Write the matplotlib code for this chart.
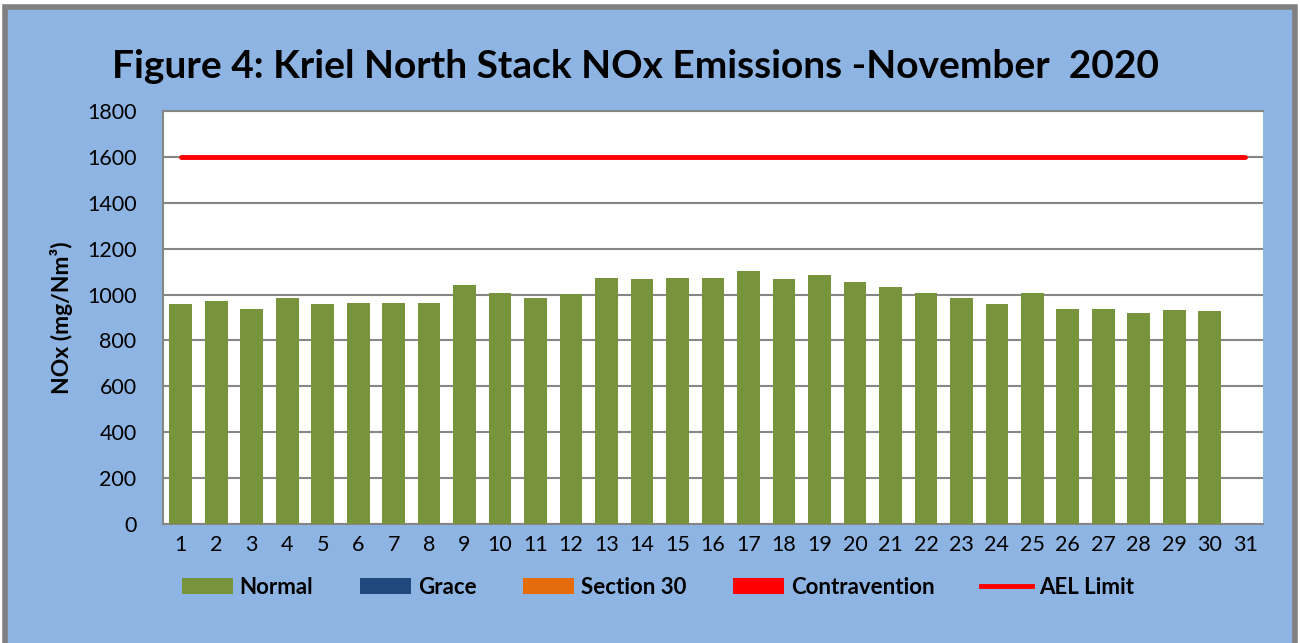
import matplotlib
matplotlib.use("Agg")
import matplotlib.pyplot as plt
from matplotlib.patches import Rectangle, Patch
from matplotlib.lines import Line2D

days = list(range(1, 32))
normal = [957, 970, 937, 987, 961, 962, 962, 962, 1042, 1006, 984, 1001, 1071, 1066, 1074,
          1071, 1101, 1068, 1085, 1054, 1033, 1006, 984, 961, 1006, 937, 936, 920, 933, 927, 0]
ael_limit = [1600] * 31
yticks = [0, 200, 400, 600, 800, 1000, 1200, 1400, 1600, 1800]
title = "Figure 4: Kriel North Stack NOx Emissions -November  2020"
ylabel = "NOx (mg/Nm³)"
legend_labels = ["Normal", "Grace", "Section 30", "Contravention", "AEL Limit"]
legend_colors = ["#77933C", "#1F497D", "#E46C0A", "#FF0000", "#FF0000"]

plt.rcParams['font.family'] = ['Lato', 'DejaVu Sans']

fig = plt.figure(figsize=(13, 6.43), dpi=100)
fig.patch.set_facecolor("white")
bg = Rectangle((5 / 1300, -0.05), 1290 / 1300, 1 - 7 / 643 + 0.05, transform=fig.transFigure,
               facecolor="#8DB4E2", edgecolor="#808080", linewidth=4, zorder=-10)
fig.patches.append(bg)

ax = fig.add_axes([163 / 1300, 1 - 524 / 643, (1263 - 163) / 1300, (524 - 111) / 643])
ax.set_facecolor("white")
ax.bar(days, normal, width=0.64, color="#77933C", zorder=3)
ax.plot(days, ael_limit, color="#FF0000", linewidth=3.5, zorder=4, solid_capstyle="round")

ax.set_xlim(0.5, 31.5)
ax.set_ylim(0, 1800)
ax.set_yticks(yticks)
ax.set_xticks(days)
ax.yaxis.grid(True, color="#868686", linewidth=1.5, zorder=0)
ax.tick_params(axis="both", length=0, labelsize=15.5, colors="black")
ax.tick_params(axis="y", pad=19)
ax.tick_params(axis="x", pad=8)
for s in ["left", "top", "bottom"]:
    ax.spines[s].set_color("#868686")
    ax.spines[s].set_linewidth(1.5)
ax.spines["right"].set_visible(False)

ax.set_ylabel(ylabel, fontsize=16.5, fontweight="bold", labelpad=10)

fig.text(0.489, 1 - 66 / 643, title, ha="center", va="center", fontsize=28, fontweight="bold")

handles = [Patch(facecolor=c) for c in legend_colors[:4]]
handles.append(Line2D([0], [0], color=legend_colors[4], linewidth=3.5))
leg = fig.legend(handles, legend_labels, loc="center", bbox_to_anchor=(0.506, 1 - 587 / 643),
                 ncol=5, frameon=False, prop={"weight": "bold", "size": 16},
                 handlelength=2.3, handleheight=0.7, columnspacing=2.1, handletextpad=0.3)

fig.savefig("out.png", dpi=100)
